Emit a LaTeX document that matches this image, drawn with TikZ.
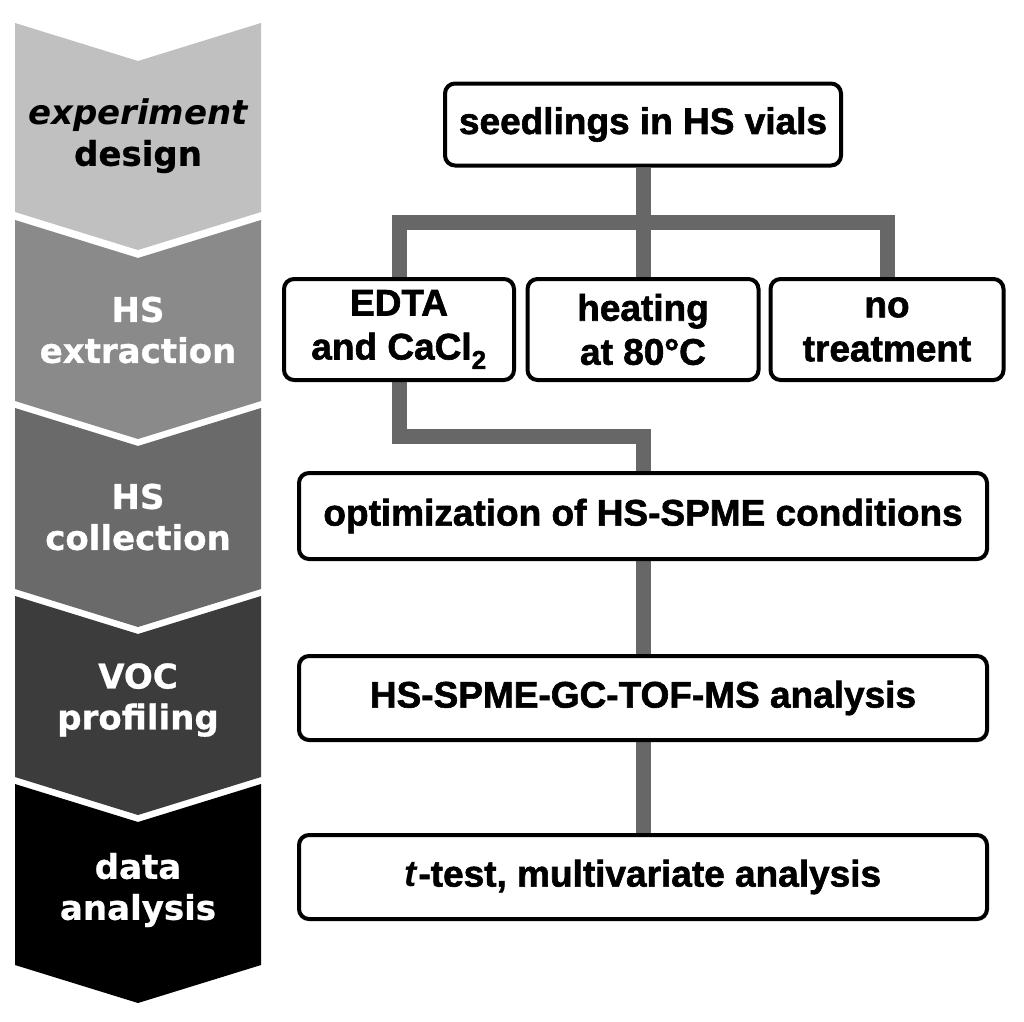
\documentclass[tikz,border=0pt]{standalone}
\usepackage{fontspec}
\setmainfont{Liberation Sans}[BoldFeatures={FakeBold=1.6}]
\newfontfamily\chevfont{DejaVu Sans}[BoldFeatures={FakeBold=0.8}]
\pgfdeclarelayer{back}
\pgfdeclarelayer{bg}
\pgfsetlayers{back,bg,main}
\definecolor{cA}{HTML}{C0C0C0}
\definecolor{cB}{HTML}{8A8A8A}
\definecolor{cC}{HTML}{6A6A6A}
\definecolor{cD}{HTML}{3C3C3C}
\definecolor{cE}{HTML}{000000}
\definecolor{conngray}{HTML}{676767}
\begin{document}
\begin{tikzpicture}[x=1pt,y=-1pt,line join=miter]
\tikzset{
  chevtext/.style={font=\chevfont\bfseries\fontsize{34}{41}\selectfont, align=center, inner sep=0pt},
  box/.style={draw=black, line width=4pt, rounded corners=10pt, fill=white, align=center,
    font=\bfseries\fontsize{37}{44}\selectfont, inner sep=0pt},
  conn/.style={draw=conngray, line width=15pt}
}
\begin{pgfonlayer}{back}
\fill[white] (0,0) rectangle (1024,1021);
\end{pgfonlayer}
\useasboundingbox (0,0) rectangle (1024,1021);
% chevrons
\fill[cA] (15,23) -- (138,61) -- (261,23) -- (261,212) -- (138,250) -- (15,212) -- cycle;
\fill[cB] (15,220) -- (138,258) -- (261,220) -- (261,401) -- (138,439) -- (15,401) -- cycle;
\fill[cC] (15,408) -- (138,446) -- (261,408) -- (261,589) -- (138,627) -- (15,589) -- cycle;
\fill[cD] (15,596) -- (138,634) -- (261,596) -- (261,777) -- (138,815) -- (15,777) -- cycle;
\fill[cE] (15,784) -- (138,822) -- (261,784) -- (261,965) -- (138,1003) -- (15,965) -- cycle;
\node[chevtext, text=black] (l1) at (138,136) {\itshape experiment\\design};
\node[chevtext, text=white] (l2) at (138,330) {HS\\extraction};
\node[chevtext, text=white] (l3) at (138,517) {HS\\collection};
\node[chevtext, text=white] (l4) at (138,700) {VOC\\profiling};
\node[chevtext, text=white] (l5) at (138,890) {data\\analysis};
% boxes
\node[box, minimum width=396pt, minimum height=82pt] (seed) at (643,124.5) {seedlings in HS vials};
\node[box, minimum width=230pt, minimum height=101pt] (edta) at (399,329.5) {EDTA\\and CaCl\textsubscript{2}};
\node[box, minimum width=231pt, minimum height=101pt] (heat) at (643,329.5) {heating\\at 80\textdegree C};
\node[box, minimum width=233pt, minimum height=101pt] (notr) at (887,329.5) {no\\treatment};
\node[box, minimum width=688pt, minimum height=86pt] (opt) at (643,516) {optimization of HS-SPME conditions};
\node[box, minimum width=688pt, minimum height=84pt] (gcms) at (643,698) {HS-SPME-GC-TOF-MS analysis};
\node[box, minimum width=688pt, minimum height=84pt] (ttest) at (643,877) {\textit{t}-test, multivariate analysis};
% connectors
\coordinate (bar) at (643,222);
\coordinate (elbow) at (643,436);
\begin{pgfonlayer}{bg}
\draw[conn] (seed.south) -- (bar);
\draw[conn] (edta.north) |- (bar) -| (notr.north);
\draw[conn] (bar) -- (heat.north);
\draw[conn] (edta.south) |- (elbow) -- (opt.north);
\draw[conn] (opt.south) -- (gcms.north);
\draw[conn] (gcms.south) -- (ttest.north);
\end{pgfonlayer}
\end{tikzpicture}
\end{document}
